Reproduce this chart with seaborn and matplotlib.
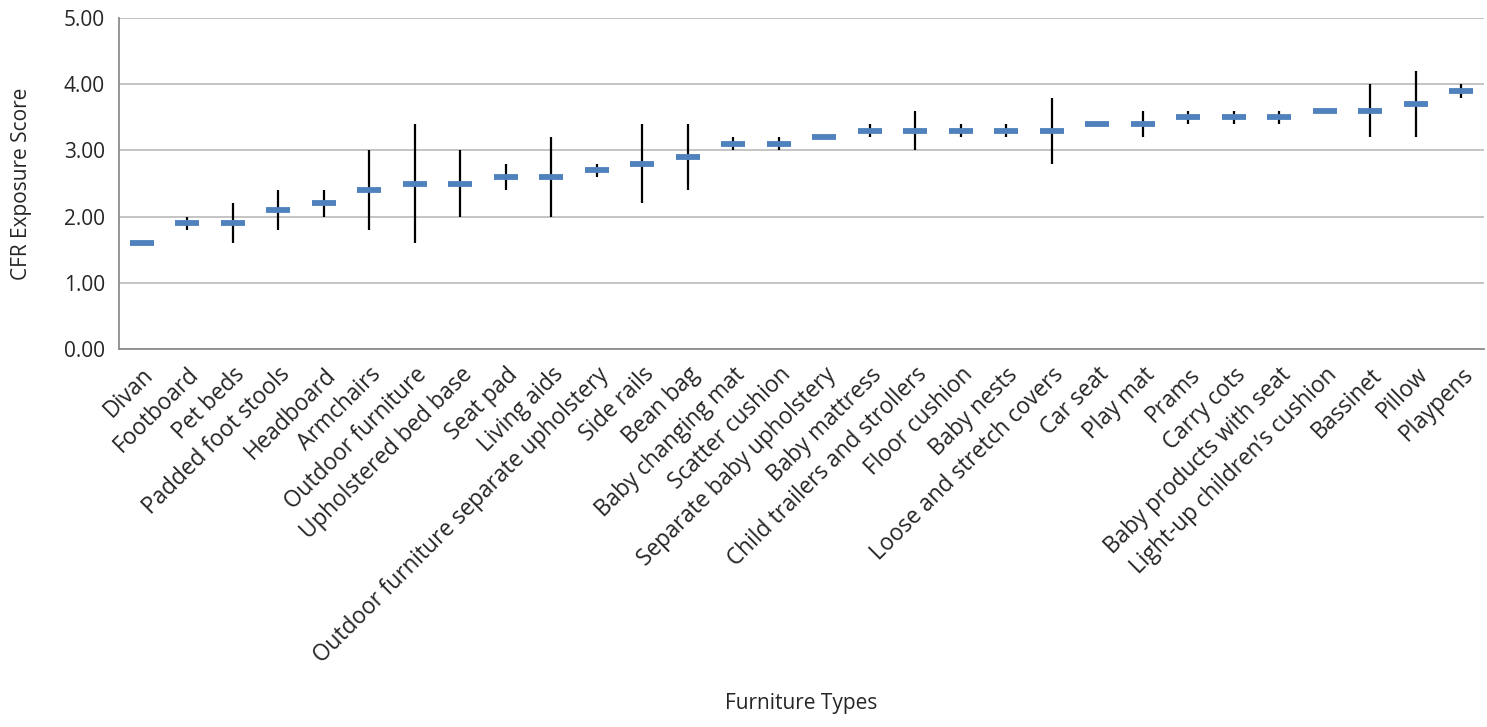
import numpy as np
import pandas as pd
import matplotlib.pyplot as plt
from matplotlib.ticker import FormatStrFormatter, MultipleLocator
import seaborn as sns

furniture = ['Divan', 'Footboard', 'Pet beds', 'Padded foot stools', 'Headboard',
             'Armchairs', 'Outdoor furniture', 'Upholstered bed base', 'Seat pad',
             'Living aids', 'Outdoor furniture separate upholstery', 'Side rails',
             'Bean bag', 'Baby changing mat', 'Scatter cushion',
             'Separate baby upholstery', 'Baby mattress', 'Child trailers and strollers',
             'Floor cushion', 'Baby nests', 'Loose and stretch covers', 'Car seat',
             'Play mat', 'Prams', 'Carry cots', 'Baby products with seat',
             'Light-up children\u2019s cushion', 'Bassinet', 'Pillow', 'Playpens']
score = [1.6, 1.9, 1.9, 2.1, 2.2, 2.4, 2.5, 2.5, 2.6, 2.6, 2.7, 2.8, 2.9, 3.1, 3.1,
         3.2, 3.3, 3.3, 3.3, 3.3, 3.3, 3.4, 3.4, 3.5, 3.5, 3.5, 3.6, 3.6, 3.7, 3.9]
low = [1.6, 1.8, 1.6, 1.8, 2.0, 1.8, 1.6, 2.0, 2.4, 2.0, 2.6, 2.2, 2.4, 3.0, 3.0,
       3.2, 3.2, 3.0, 3.2, 3.2, 2.8, 3.4, 3.2, 3.4, 3.4, 3.4, 3.6, 3.2, 3.2, 3.8]
high = [1.6, 2.0, 2.2, 2.4, 2.4, 3.0, 3.4, 3.0, 2.8, 3.2, 2.8, 3.4, 3.4, 3.2, 3.2,
        3.2, 3.4, 3.6, 3.4, 3.4, 3.8, 3.4, 3.6, 3.6, 3.6, 3.6, 3.6, 4.0, 4.2, 4.0]

df = pd.DataFrame({'furniture': furniture, 'score': score, 'low': low, 'high': high})

sns.set_style('white')
plt.rcParams['font.family'] = ['Open Sans', 'DejaVu Sans']

fig = plt.figure(figsize=(14.87, 7.27), dpi=100)
ax = fig.add_axes([0.080, 0.520, 0.918, 0.455])

grid_col = '#BFBFBF'
axis_col = '#8C8C8C'

# min/max bars
ax.vlines(np.arange(len(df)), df['low'], df['high'], color='black', lw=1.6, zorder=2)

sns.scatterplot(data=df, x='furniture', y='score', marker='_', s=290,
                linewidth=4.2, color='#4F81BD', ax=ax, zorder=3, legend=False)

ax.set_xlim(-0.5, len(df) - 0.5)
ax.set_ylim(0, 5)
ax.yaxis.set_major_locator(MultipleLocator(1))
ax.yaxis.set_major_formatter(FormatStrFormatter('%.2f'))
ax.grid(axis='y', color=grid_col, lw=1.3, zorder=0)
ax.set_axisbelow(True)

for s in ['top', 'right']:
    ax.spines[s].set_visible(False)
for s in ['left', 'bottom']:
    ax.spines[s].set_color(axis_col)
    ax.spines[s].set_linewidth(1.3)

ax.set_xticks(np.arange(len(df)))
ax.set_xticklabels(furniture, rotation=45, ha='right', rotation_mode='anchor', fontsize=16.3)
ax.set_xticks(np.arange(-0.5, len(df)), minor=True)
ax.tick_params(axis='x', which='major', length=0, pad=10)
ax.tick_params(axis='x', which='minor', length=6, width=1.3, color=axis_col)
ax.tick_params(axis='y', length=5, width=1.3, color=axis_col, labelsize=15, pad=5)

ax.set_ylabel('CFR Exposure Score', fontsize=15)
ax.set_xlabel('Furniture Types', fontsize=15)
ax.xaxis.set_label_coords(0.5, -1.04)
ax.yaxis.set_label_coords(-0.064, 0.5)

fig.savefig('out.png', dpi=100)
